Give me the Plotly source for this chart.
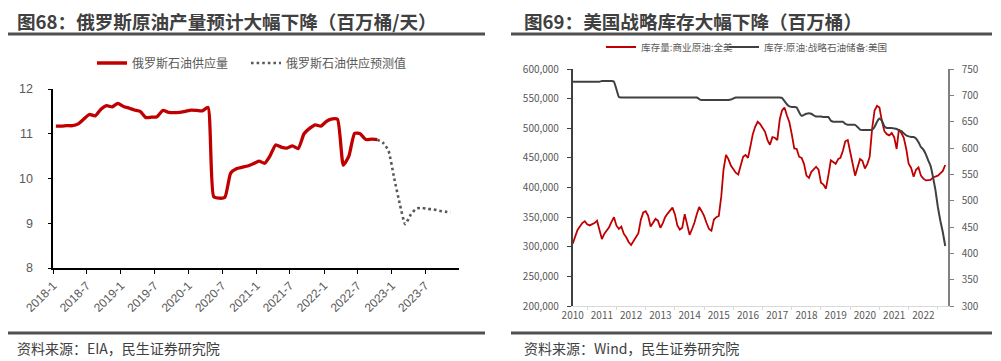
import plotly.graph_objects as go
import pandas as pd

# ---------------- Left chart data (百万桶/天) ----------------
ru_start = "2018-01"
ru_supply = [11.17, 11.17, 11.18, 11.18, 11.22, 11.33, 11.43, 11.40, 11.55, 11.63, 11.60, 11.68,
             11.61, 11.57, 11.53, 11.50, 11.36, 11.37, 11.38, 11.52, 11.48, 11.47, 11.48, 11.50,
             11.53, 11.52, 11.51, 11.59, 9.60, 9.56, 9.58, 10.12, 10.22, 10.25, 10.28, 10.33,
             10.39, 10.34, 10.50, 10.75, 10.70, 10.68, 10.73, 10.67, 11.00, 11.12, 11.20, 11.17,
             11.28, 11.33, 11.32, 10.30, 10.50, 11.01, 11.00, 10.87, 10.88, 10.87]
fc_start = "2022-10"
ru_forecast = [10.87, 10.80, 10.62, 10.00, 9.41, 8.98, 9.20, 9.33, 9.34, 9.32, 9.31, 9.28, 9.26, 9.24]
ru_tick_labels = ["2018-1", "2018-7", "2019-1", "2019-7", "2020-1", "2020-7", "2021-1",
                  "2021-7", "2022-1", "2022-7", "2023-1", "2023-7"]
ru_yticks = [8, 9, 10, 11, 12]

# ---------------- Right chart data ----------------
us_start = "2010-01"
us_commercial = [
    305000, 318000, 328000, 334000, 340000, 343000, 338000, 336000, 338000, 340000, 344000, 330000,
    313000, 322000, 328000, 333000, 342000, 350000, 336000, 330000, 334000, 322000, 316000, 308000,
    303000, 310000, 316000, 323000, 345000, 358000, 360000, 352000, 334000, 340000, 347000, 344000,
    332000, 340000, 350000, 356000, 362000, 366000, 355000, 336000, 329000, 332000, 355000, 338000,
    320000, 330000, 340000, 355000, 367000, 360000, 352000, 340000, 330000, 327000, 346000, 350000,
    352000, 385000, 430000, 455000, 448000, 437000, 432000, 425000, 422000, 435000, 452000, 455000,
    450000, 470000, 490000, 503000, 511000, 507000, 500000, 494000, 480000, 472000, 485000, 484000,
    480000, 515000, 530000, 535000, 522000, 510000, 490000, 466000, 465000, 452000, 450000, 440000,
    420000, 416000, 426000, 430000, 435000, 430000, 408000, 405000, 398000, 420000, 446000, 443000,
    440000, 448000, 450000, 462000, 478000, 480000, 458000, 440000, 420000, 432000, 448000, 445000,
    432000, 440000, 452000, 500000, 530000, 538000, 535000, 512000, 495000, 490000, 488000, 492000,
    485000, 465000, 498000, 492000, 484000, 465000, 440000, 433000, 418000, 430000, 434000, 420000,
    415000, 412000, 412000, 413000, 417000, 418000, 420000, 424000, 428000, 438000]
us_spr = [
    726, 726, 726, 726, 726, 726, 726, 726, 726, 726, 726, 726,
    727, 727, 727, 727, 727, 726, 712, 697, 696, 696, 696, 696,
    696, 696, 696, 696, 696, 696, 696, 696, 696, 696, 696, 696,
    696, 696, 696, 696, 696, 696, 696, 696, 696, 696, 696, 696,
    696, 696, 696, 696, 693, 691, 691, 691, 691, 691, 691, 691,
    691, 691, 691, 691, 691, 692, 694, 696, 696, 696, 696, 696,
    696, 696, 696, 696, 696, 696, 696, 696, 696, 696, 696, 696,
    696, 696, 695, 689, 683, 679, 678, 678, 677, 668, 661, 663,
    665, 666, 665, 662, 660, 660, 660, 659, 659, 659, 652, 650,
    650, 650, 650, 650, 646, 644, 644, 644, 644, 640, 635, 634,
    634, 634, 634, 635, 640, 650, 656, 652, 641, 638, 638, 638,
    637, 636, 634, 632, 628, 624, 622, 621, 621, 618, 611, 602,
    597, 588, 577, 566, 545, 520, 488, 462, 440, 414]
us_years = [str(y) for y in range(2010, 2023)]
us_left_ticks = list(range(200000, 600001, 50000))
us_right_ticks = list(range(300, 751, 50))

# ---------------- Build ----------------
# The page adds an 8px body margin, so the figure is sized to the window minus that offset
OFF = 8
W, H = 1001 - OFF, 361 - OFF
FONT = "Noto Sans CJK SC, Liberation Sans, sans-serif"
NUMFONT = "Liberation Sans, Noto Sans CJK SC, sans-serif"
RED = "#C00000"
GRAY_TXT = "#595959"


def px_x(v):
    return (v - OFF) / W


def px_y(v):
    return 1 - (v - OFF) / H


ru_x = pd.date_range(ru_start, periods=len(ru_supply), freq="MS") + pd.Timedelta(days=14)
fc_x = pd.date_range(fc_start, periods=len(ru_forecast), freq="MS") + pd.Timedelta(days=14)
ru_tickvals = [pd.to_datetime(t, format="%Y-%m") for t in ru_tick_labels]
us_x = pd.date_range(us_start, periods=len(us_commercial), freq="MS")

fig = go.Figure()

fig.add_trace(go.Scatter(x=ru_x, y=ru_supply, mode="lines", name="俄罗斯石油供应量",
                         line=dict(color=RED, width=3.3, shape="spline", smoothing=0.5),
                         xaxis="x", yaxis="y", legend="legend"))
fig.add_trace(go.Scatter(x=fc_x, y=ru_forecast, mode="lines", name="俄罗斯石油供应预测值",
                         line=dict(color="#595959", width=2.6, dash="2.6px,3px",
                                   shape="spline", smoothing=0.5),
                         xaxis="x", yaxis="y", legend="legend2"))

fig.add_trace(go.Scatter(x=us_x, y=us_commercial, mode="lines", name="库存量:商业原油:全美",
                         line=dict(color=RED, width=1.8),
                         xaxis="x2", yaxis="y2", legend="legend3"))
fig.add_trace(go.Scatter(x=us_x, y=us_spr, mode="lines", name="库存:原油:战略石油储备:美国",
                         line=dict(color="#404040", width=2, shape="spline", smoothing=0.3),
                         xaxis="x2", yaxis="y3", legend="legend4"))

left_dom_x = [px_x(53.3), px_x(459.3)]
left_dom_y = [px_y(268), px_y(89)]
right_dom_x = [px_x(572.7), px_x(947.7)]
right_dom_y = [px_y(306), px_y(69)]


def legend_at(x, y, size):
    return dict(orientation="h", x=px_x(x), y=px_y(y), xanchor="left", yanchor="middle",
                font=dict(size=size, color=GRAY_TXT), bgcolor="rgba(0,0,0,0)", itemwidth=30)


fig.update_layout(
    width=W, height=H,
    margin=dict(l=0, r=0, t=0, b=0, pad=0, autoexpand=False),
    paper_bgcolor="white", plot_bgcolor="white",
    font=dict(family=FONT, color=GRAY_TXT),
    xaxis=dict(domain=left_dom_x, anchor="y", type="date", automargin=False,
               range=["2018-01-01", "2024-01-01"],
               tickvals=ru_tickvals, ticktext=ru_tick_labels, tickangle=-45,
               showline=True, linecolor="#000000", linewidth=1.6,
               ticks="outside", ticklen=4, tickcolor="#000000", tickwidth=1.3,
               showgrid=False, zeroline=False,
               tickfont=dict(size=12, color=GRAY_TXT, family=NUMFONT)),
    yaxis=dict(domain=left_dom_y, anchor="x", range=[8, 12], automargin=False,
               tickvals=ru_yticks,
               showline=True, linecolor="#000000", linewidth=1.6,
               ticks="outside", ticklen=4, tickcolor="#000000", tickwidth=1.3,
               showgrid=False, zeroline=False, ticklabelstandoff=12,
               tickfont=dict(size=12.5, color=GRAY_TXT, family=NUMFONT)),
    xaxis2=dict(domain=right_dom_x, anchor="y2", type="date", automargin=False,
                range=["2010-01-01", "2022-11-01"],
                tickvals=[pd.to_datetime(y, format="%Y") for y in us_years], ticktext=us_years,
                showline=True, linecolor="#D9D9D9", linewidth=1.2,
                ticks="", showgrid=False, zeroline=False,
                minor=dict(ticks="outside", ticklen=3, tickcolor="#D9D9D9",
                           tickvals=[pd.Timestamp(int(y), 7, 1) for y in us_years]),
                tickfont=dict(size=10, color=GRAY_TXT)),
    yaxis2=dict(domain=right_dom_y, anchor="x2", range=[200000, 600000], automargin=False,
                tickvals=us_left_ticks, tickformat=",",
                showline=True, linecolor="#404040", linewidth=1.5,
                ticks="outside", ticklen=4, tickcolor="#404040",
                showgrid=False, zeroline=False, ticklabelstandoff=6,
                tickfont=dict(size=10, color=GRAY_TXT)),
    yaxis3=dict(domain=right_dom_y, anchor="x2", overlaying="y2", side="right",
                range=[300, 750], tickvals=us_right_ticks, automargin=False,
                showline=True, linecolor="#808080", linewidth=2,
                ticks="outside", ticklen=4, tickcolor="#808080",
                showgrid=False, zeroline=False, ticklabelstandoff=6,
                tickfont=dict(size=10, color=GRAY_TXT)),
    legend=legend_at(92, 63, 12),
    legend2=legend_at(246, 63, 12),
    legend3=legend_at(601, 47, 9.6),
    legend4=legend_at(724, 47, 9.6),
    showlegend=True,
)

# Titles, rules and sources
titles = [
    (15, "图68：俄罗斯原油产量预计大幅下降（百万桶/天）"),
    (522, "图69：美国战略库存大幅下降（百万桶）"),
]
for x0, txt in titles:
    fig.add_annotation(xref="paper", yref="paper", x=px_x(x0), y=px_y(21),
                       xanchor="left", yanchor="middle", showarrow=False,
                       text="<b>" + txt + "</b>",
                       font=dict(size=18.6, color="#404040", family=FONT))
sources = [
    (15, "资料来源：EIA，民生证券研究院"),
    (522, "资料来源：Wind，民生证券研究院"),
]
for x0, txt in sources:
    fig.add_annotation(xref="paper", yref="paper", x=px_x(x0), y=px_y(348),
                       xanchor="left", yanchor="middle", showarrow=False,
                       text=txt, font=dict(size=14, color="#404040", family=FONT))

for (xa, xb) in [(4, 485), (511, 992)]:
    for yy in (34, 333):
        fig.add_shape(type="line", xref="paper", yref="paper",
                      x0=px_x(xa), x1=px_x(xb), y0=px_y(yy), y1=px_y(yy),
                      line=dict(color="#505050", width=3))

fig.write_html("out.html")
